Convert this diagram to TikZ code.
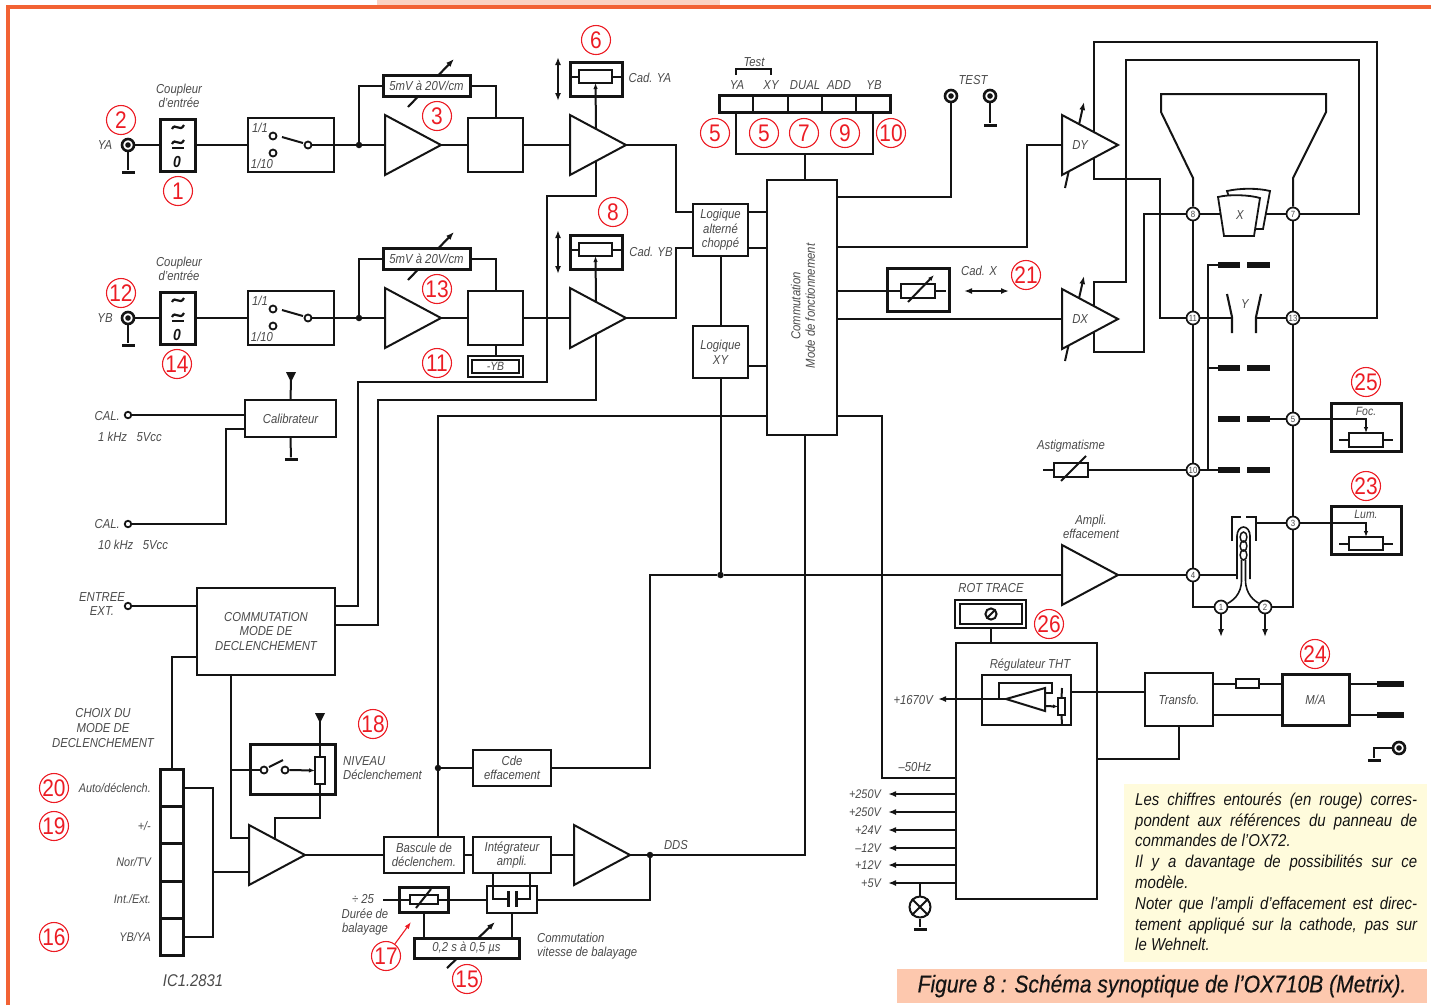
\documentclass[tikz,border=0pt]{standalone}
\usepackage{fontspec}
\setmainfont[FakeStretch=0.87]{Liberation Sans}
\usetikzlibrary{arrows.meta,shapes.geometric,backgrounds}
\pgfdeclarelayer{toplayer}
\pgfsetlayers{background,main,toplayer}
\definecolor{framec}{HTML}{F26234}
\definecolor{peach}{HTML}{FBD2C2}
\definecolor{capc}{HTML}{FDC8AE}
\definecolor{notec}{HTML}{FFFBDC}
\definecolor{numc}{HTML}{EC1C24}
\definecolor{labc}{HTML}{4A4A4A}
\definecolor{inkc}{HTML}{141414}
\newcommand\blk[7]{%
 \pgfmathsetmacro\blkw{#4-#2}\pgfmathsetmacro\blkh{#5-#3}%
 \node[minimum width=\blkw pt,minimum height=\blkh pt,anchor=north west,inner sep=0pt,outer sep=0pt,#6] (#1) at (#2,#3) {#7};}
\newcommand\tld[2]{\draw[line width=2.2pt,inkc] (#1-6,#2+2) .. controls (#1-3,#2-5) and (#1+2,#2+6) .. (#1+6,#2-2);}
\tikzset{
 lbl/.style={font=\itshape\fontsize{13}{14.6}\selectfont,text=labc,inner sep=0pt,align=center},
 lblr/.style={lbl,anchor=east,align=right},
 lbll/.style={lbl,anchor=west,align=left},
 num/.style={circle,draw=numc,line width=1.1pt,minimum size=29pt,inner sep=0pt,text=numc,font=\fontsize{24}{24}\selectfont},
 wire/.style={line width=2pt,draw=inkc},
 thinbox/.style={draw=inkc,line width=2pt,fill=white,font=\itshape\fontsize{13}{14.6}\selectfont,text=labc,align=center},
 midbox/.style={thinbox,line width=2pt},
 gainbox/.style={thinbox,line width=3pt},
 thickbox/.style={thinbox,line width=3pt},
 res/.style={draw=inkc,line width=2pt,fill=white},
 amp/.style={isosceles triangle,isosceles triangle stretches,shape border rotate=0,draw=inkc,line width=2pt,fill=white,minimum width=60pt,minimum height=56pt,inner sep=0pt,outer sep=0pt,anchor=lower side,font=\itshape\fontsize{13}{14}\selectfont,text=labc},
 dot/.style={circle,fill=inkc,minimum size=6.5pt,inner sep=0pt},
 port/.style={circle,draw=inkc,fill=white,line width=1.8pt,minimum size=7pt,inner sep=0pt},
 ring/.style={circle,draw=inkc,fill=white,line width=2.6pt,minimum size=12pt,inner sep=0pt},
 gbar/.style={fill=inkc,minimum width=13pt,minimum height=3pt,inner sep=0pt},
 gridbar/.style={fill=inkc,minimum width=22.5pt,minimum height=6pt,inner sep=0pt},
 term/.style={circle,draw=inkc,fill=white,line width=1.7pt,minimum size=13pt,inner sep=0pt,font=\fontsize{9}{9}\selectfont,text=labc},
 tip/.style={-{Latex[length=8pt,width=6pt]}},
 tips/.style={{Latex[length=8pt,width=6pt]}-{Latex[length=8pt,width=6pt]}},
 smalltip/.style={-{Latex[length=6pt,width=4.5pt]}}
}
% one input channel: prefix, vertical offset, name
\newcommand\chan[3]{%
 \begin{scope}[shift={(0,#2)}]
  \node[lbl] (#1lab) at (105,145) {#3};
  \node[ring] (#1in) at (128,145) {};
  \fill[inkc] (128,145) circle (2.8);
  \node[gbar] (#1gnd) at (128,172) {};
  \node[lbl] (#1cap) at (179,96) {Coupleur\\d'entrée};
  \blk{#1cpl}{160}{119}{195}{171}{thickbox}{}
  \tld{178}{127}\tld{178}{142}
  \draw[line width=2.2pt,inkc] (172,148) -- (184,148);
  \node[font=\itshape\bfseries\fontsize{16}{16}\selectfont,text=inkc,inner sep=0pt] (#1zero) at (177,162) {0};
  \blk{#1sw}{248}{118}{334}{172}{thinbox}{}
  \node[lbl] (#1r1) at (260,128) {1/1};
  \node[lbl] (#1r2) at (262,164) {1/10};
  \node[port] (#1p1) at (273,136) {};
  \node[port] (#1p2) at (273,153) {};
  \node[port] (#1p3) at (308,145) {};
  \node[dot] (#1j) at (359,145) {};
  \node[amp] (#1a1) at (385,145) {};
  \blk{#1gain}{383}{75}{470}{96}{gainbox}{5mV à 20V/cm}
  \blk{#1sq}{468}{118}{523}{172}{midbox}{}
  \node[amp] (#1a2) at (570,145) {};
  \blk{#1cad}{570}{62}{622}{96}{thickbox}{}
  \blk{#1pot}{579}{70}{612}{83}{res}{}
  \coordinate (#1ds) at (558,57);
  \coordinate (#1de) at (558,101);
  \coordinate (#1up) at (596,129);
  \coordinate (#1dn) at (596,145);
  \coordinate (#1kb) at (408,107);
  \coordinate (#1kt) at (454,59);
  \begin{scope}[on background layer]
   \draw[wire] (#1in) -- (#1cpl.west);
   \draw[wire] (#1in) -- (#1gnd);
   \draw[wire] (#1cpl.east) -- (#1sw.west);
   \draw[wire] (#1sw.east) -- (#1a1.lower side);
   \draw[wire] (#1j) |- (#1gain.west);
   \draw[wire] (#1gain.east) -| (#1sq.north);
   \draw[wire] (#1a1.apex) -- (#1sq.west);
   \draw[wire] (#1sq.east) -- (#1a2.lower side);
   \draw[wire,tip,line width=2.1pt] (#1kb) -- (#1kt);
  \end{scope}
  \begin{pgfonlayer}{toplayer}
   \draw[wire] (282,137) -- (303,143);
   \draw[wire] (#1p3) -- (#1sw.east);
   \draw[wire] (#1cad.west |- #1pot.west) -- (#1pot.west);
   \draw[wire] (#1pot.east) -- (#1cad.east |- #1pot.east);
   \draw[wire,{Latex[length=6pt,width=4.5pt]}-] (#1pot.south) -- (#1up);
  \end{pgfonlayer}
  \draw[wire,tips] (#1ds) -- (#1de);
 \end{scope}}
\begin{document}
\begin{tikzpicture}[x=1pt,y=-1pt,line join=miter]
\useasboundingbox (0,0) rectangle (1431,1005);
\begin{scope}[on background layer]
 \fill[peach] (377,0) rectangle (720,5);
 \draw[framec,line width=4pt] (8,1005) -- (8,7) -- (1431,7);
\end{scope}
\blk{note}{1124}{784}{1427}{962}{fill=notec}{}
\blk{caption}{897}{969}{1427}{1003}{fill=capc,font=\itshape\fontsize{24.2}{24}\selectfont\addfontfeature{FakeBold=0.35},text=inkc}{Figure 8 : Schéma synoptique de l'OX710B (Metrix).}
\node[anchor=north west,inner sep=0pt,font=\itshape\fontsize{17.2}{20.8}\selectfont,text=inkc,align=left] (notetext) at (1135,792.5) {%
 \makebox[282pt][s]{Les chiffres entourés (en rouge) corres-}\\
 \makebox[282pt][s]{pondent aux références du panneau de}\\
 commandes de l'OX72.\\
 \makebox[282pt][s]{Il y a davantage de possibilités sur ce}\\
 modèle.\\
 \makebox[282pt][s]{Noter que l'ampli d'effacement est direc-}\\
 \makebox[282pt][s]{tement appliqué sur la cathode, pas sur}\\
 le Wehnelt.};

\chan{A}{0}{YA}
\chan{B}{173}{YB}
\node[lbl] (cadA) at (650,78) {Cad. YA};
\node[lbl] (cadB) at (651,252) {Cad. YB};
\blk{ybo}{468}{356}{523}{377}{thinbox}{}
\blk{ybi}{472}{360}{519}{373}{thinbox,font=\itshape\fontsize{12}{12}\selectfont}{-YB}

% mode selector
\blk{modeb}{736}{113}{873}{154}{thinbox}{}
\blk{modes}{719}{95}{890}{112}{thickbox}{}
\foreach \i/\x in {1/753,2/788,3/822,4/856}{\coordinate (md\i) at (\x,95);\coordinate (me\i) at (\x,112);}
\foreach \n/\t/\x in {mya/YA/737,mxy/XY/771,mdu/DUAL/805,mad/ADD/839,myb/YB/874}{\node[lbl] (\n) at (\x,85) {\t};}
\node[lbl] (mtest) at (754,62) {Test};
\coordinate (tb1) at (736,75);\coordinate (tb2) at (771,75);

% central blocks
\blk{comm}{767}{180}{837}{435}{thinbox}{}
\node[lbl,rotate=90] (commtxt) at (803,306) {Commutation\\Mode de fonctionnement};
\blk{logA}{693}{204}{748}{256}{midbox}{Logique\\alterné\\choppé}
\blk{logB}{693}{326}{748}{378}{midbox}{Logique\\XY}
\node[dot] (jlog) at (720.5,575) {};
\coordinate (logA1) at (693,212);\coordinate (logA2) at (693,248);
\coordinate (logA3) at (748,212);\coordinate (logA4) at (748,248);
\coordinate (logB1) at (748,366);

% test points
\node[ring] (testa) at (951,96) {};
\fill[inkc] (951,96) circle (2.8);
\node[ring] (testb) at (990,96) {};
\fill[inkc] (990,96) circle (2.8);
\node[gbar] (testg) at (990,125) {};
\node[lbl] (testl) at (973,80) {TEST};

% Cad X
\blk{cadx}{887}{268}{949}{311}{thickbox}{}
\blk{cadxr}{901}{284}{935}{298}{res}{}
\coordinate (cxin) at (837,291);
\coordinate (cxst) at (946,291);
\coordinate (cxs1) at (908,302);
\coordinate (cxs2) at (934,275);
\node[lbl] (cadxl) at (979,271) {Cad. X};
\coordinate (cxa) at (964,291);\coordinate (cxb) at (1009,291);
\draw[wire,tips] (cxa) -- (cxb);

% deflection amps
\node[amp] (dy) at (1062,145) {DY};
\node[amp] (dx) at (1062,319) {DX};

% CRT
\foreach \n/\t/\x/\y in {t8/8/1193/214,t7/7/1293/214,t11/11/1193/318,t13/13/1293/318,t5/5/1293/419,t10/10/1193/470,t3/3/1293/523,t4/4/1193/575,t1/1/1221/607,t2/2/1265/607}{\node[term] (\n) at (\x,\y) {\t};}
\draw[line width=1.8pt,inkc,fill=white] (1227,191) .. controls (1240,188) and (1258,188) .. (1270,191) -- (1263,229) -- (1240,229) -- cycle;
\draw[line width=1.8pt,inkc,fill=white] (1218,197) .. controls (1230,194) and (1250,195) .. (1260,198) -- (1254,236) -- (1224,236) -- cycle;
\node[lbl] (xlab) at (1240,215) {X};
\node[lbl] (ylab) at (1245,304) {Y};
\draw[wire,line width=2.1pt] (1227,294) -- (1232,317) -- (1232,333);
\draw[wire,line width=2.1pt] (1261,294) -- (1256,317) -- (1256,333);
\coordinate (ypl) at (1232,318);\coordinate (ypr) at (1256,318);
\foreach \i/\y in {1/265,2/368,3/419,4/470}{%
 \node[gridbar] (g\i a) at (1229,\y) {};
 \node[gridbar] (g\i b) at (1258.5,\y) {};}

% astigmatism, focus, luminosity
\node[lbl] (astl) at (1071,446) {Astigmatisme};
\blk{ast}{1054}{463}{1088}{477}{res}{}
\coordinate (astin) at (1043,470);
\draw[wire] (1061,481) -- (1086,456);
\blk{foc}{1331}{403}{1401}{451}{thickbox}{}
\blk{focr}{1349}{433}{1383}{447}{res}{}
\node[lbl,font=\itshape\fontsize{12}{14}\selectfont] (focl) at (1366,411) {Foc.};
\blk{lum}{1331}{506}{1401}{554}{thickbox}{}
\blk{lumr}{1349}{537}{1383}{550}{res}{}
\node[lbl,font=\itshape\fontsize{12}{14}\selectfont] (luml) at (1366,514) {Lum.};
\coordinate (foca) at (1339,440);\coordinate (focb) at (1393,440);
\coordinate (luma) at (1339,543.5);\coordinate (lumb) at (1393,543.5);

% blanking amplifier
\node[lbl] (amlab) at (1091,527) {Ampli.\\effacement};
\node[amp] (ampe) at (1062,575) {};

% left side
\foreach \n/\x/\y in {calA/128/415,calB/128/524,extin/128/606}{\node[port,minimum size=6.5pt] (\n) at (\x,\y) {};}
\node[lblr] (call1) at (120,416) {CAL.};
\node[lbll] (call2) at (98,437) {1 kHz\ \ \ 5Vcc};
\node[lblr] (call3) at (120,524) {CAL.};
\node[lbll] (call4) at (98,545) {10 kHz\ \ \ 5Vcc};
\node[lbl] (extl) at (102,604) {ENTREE\\EXT.};
\blk{calib}{245}{400}{336}{437}{midbox}{Calibrateur}
\fill[inkc] (286,372) -- (296,372) -- (291,382) -- cycle;
\coordinate (calt) at (291,380);
\node[gbar] (calg) at (291,459) {};
\coordinate (calp) at (245,429);
\blk{cmd}{197}{588}{335}{675}{midbox}{COMMUTATION\\MODE DE\\DECLENCHEMENT}
\coordinate (cmA) at (335,606);\coordinate (cmB) at (335,625);
\coordinate (cmC) at (197,657);\coordinate (cmE) at (231,675);

% selector strip
\node[lbl] (choix) at (103,728) {CHOIX DU\\MODE DE\\DECLENCHEMENT};
\blk{sel1}{160}{769}{183}{806}{thickbox}{}
\blk{sel2}{160}{806}{183}{843}{thickbox}{}
\blk{sel3}{160}{843}{183}{881}{thickbox}{}
\blk{sel4}{160}{881}{183}{918}{thickbox}{}
\blk{sel5}{160}{918}{183}{955}{thickbox}{}
\node[lblr,font=\itshape\fontsize{12.5}{14}\selectfont] (l1) at (151,788) {Auto/déclench.};
\node[lblr,font=\itshape\fontsize{12.5}{14}\selectfont] (l2) at (151,826) {+/-};
\node[lblr,font=\itshape\fontsize{12.5}{14}\selectfont] (l3) at (151,862) {Nor/TV};
\node[lblr,font=\itshape\fontsize{12.5}{14}\selectfont] (l4) at (151,899) {Int./Ext.};
\node[lblr,font=\itshape\fontsize{12.5}{14}\selectfont] (l5) at (151,937) {YB/YA};
\node[lbl,font=\itshape\fontsize{17}{17}\selectfont] (ic) at (193,981) {IC1.2831};
\coordinate (sa) at (184,788);\coordinate (sb) at (184,937);\coordinate (sc) at (213,872);

% trigger level
\blk{niv}{250}{744}{335}{794}{thickbox}{}
\node[port] (nv1) at (264,770) {};
\node[port] (nv2) at (285,770) {};
\blk{nvr}{315}{757}{325}{784}{res}{}
\fill[inkc] (315,713) -- (325,713) -- (320,723) -- cycle;
\coordinate (nvt) at (320,721);
\node[lbll] (nivl) at (343,768) {NIVEAU\\Déclenchement};
\node[amp] (trg) at (249,855) {};
\coordinate (trgA) at (249,838);\coordinate (trgB) at (249,872);\coordinate (trgT) at (275,840);

% timebase
\blk{basc}{384}{837}{464}{873}{midbox}{Bascule de\\déclenchem.}
\blk{integ}{473}{837}{551}{873}{midbox}{Intégrateur\\ampli.}
\blk{cde}{473}{750}{551}{786}{midbox}{Cde\\effacement}
\node[dot] (jcde) at (438,768) {};
\node[amp] (amt) at (574,855) {};
\node[dot] (jdds) at (650,855) {};
\node[lbl] (ddsl) at (676,845) {DDS};
\blk{dur}{399}{887}{448}{912}{thickbox}{}
\blk{durr}{410}{895}{438}{904}{res}{}
\draw[wire] (416,908) -- (431,889);
\blk{capb}{487}{886}{537}{913}{thinbox}{}
\draw[wire,line width=3pt] (508,891) -- (508,907);
\draw[wire,line width=3pt] (516,891) -- (516,907);
\blk{speed}{414}{938}{519}{958}{thickbox}{0,2 s à 0,5 µs}
\node[lbl] (d25) at (363,899) {÷ 25};
\node[lbl] (dbal) at (365,922) {Durée de\\balayage};
\node[lbll] (cvit) at (537,946) {Commutation\\vitesse de balayage};
\coordinate (rowin) at (383,899.5);
\coordinate (pl) at (508,899);\coordinate (pr) at (516,899);
\coordinate (i1) at (493,873);\coordinate (i2) at (530,873);
\coordinate (c1) at (493,899);\coordinate (c2) at (530,899);
\coordinate (sp1) at (424,937);\coordinate (sp2) at (512,937);
\coordinate (da) at (424,913);\coordinate (db) at (512,913);
\coordinate (ka) at (447,968);\coordinate (kb) at (495,922);

% power supply
\node[lbl] (rotl) at (991,588) {ROT TRACE};
\blk{rot}{955}{600}{1026}{628}{thinbox}{}
\blk{roti}{960}{604}{1022}{624}{thinbox}{}
\draw[line width=2pt,inkc] (991,614) circle (5.6);
\draw[line width=2pt,inkc] (987,618) -- (995,610);
\blk{psu}{956}{643}{1097}{899}{midbox}{}
\node[lbl] (rthl) at (1030,665) {Régulateur THT};
\blk{reg}{982}{675}{1071}{725}{thinbox}{}
\blk{regr}{1058}{698}{1065}{715}{res}{}
\draw[line width=2pt,inkc,fill=white] (1006,699) -- (1045,688) -- (1045,711) -- cycle;
\coordinate (regt) at (1006,699);
\coordinate (regout) at (938,699);
\node[lblr] (v1670) at (933,700) {+1670V};
\coordinate (regR) at (1071,692);
\blk{transfo}{1145}{673}{1213}{726}{midbox}{Transfo.}
\blk{fuse}{1236}{679}{1259}{688}{res}{}
\blk{ma}{1282}{674}{1349}{725}{thickbox}{M/A}
\blk{plugA}{1377}{681}{1404}{687}{fill=inkc}{}
\blk{plugB}{1377}{712}{1404}{718}{fill=inkc}{}
\node[ring] (eart) at (1399,748) {};
\fill[inkc] (1399,748) circle (2.8);
\node[gbar] (eartg) at (1374,760) {};
\node[lbl] (hz) at (915,767) {–50Hz};
\foreach \i/\t/\y in {1/+250V/794,2/+250V/812,3/+24V/830,4/–12V/848,5/+12V/865,6/+5V/883}{%
 \node[lblr,font=\itshape\fontsize{12.5}{14}\selectfont] (vl\i) at (881,\y) {\t};
 \coordinate (vs\i) at (956,\y);
 \coordinate (ve\i) at (888,\y);}
\node[circle,draw=inkc,line width=2pt,fill=white,minimum size=21pt,inner sep=0pt] (lamp) at (920,907) {};
\draw[line width=2pt,inkc] (lamp.north west) -- (lamp.south east);
\draw[line width=2pt,inkc] (lamp.north east) -- (lamp.south west);
\node[gbar] (lampg) at (920,929) {};
\coordinate (lampt) at (920,883);

% connectors inside boxes, above the blocks
\begin{pgfonlayer}{toplayer}
 \foreach \i in {1,2,3,4}{\draw[wire,line width=2.2pt] (md\i) -- (me\i);}
 \draw[wire] (cxin) -- (cadxr.west);
 \draw[wire] (cadxr.east) -- (cxst);
 \draw[wire,smalltip] (cxs1) -- (cxs2);
 \draw[wire,smalltip] (t5.east) -- (1366,419) -- (focr.north);
 \draw[wire,smalltip] (t3.east) -- (1366,523) -- (lumr.north);
 \draw[wire] (foca) -- (focr.west);\draw[wire] (focr.east) -- (focb);
 \draw[wire] (luma) -- (lumr.west);\draw[wire] (lumr.east) -- (lumb);
 \draw[wire] (231,770) -- (nv1.west);
 \draw[wire] (269,767) -- (283,760);
 \draw[wire,smalltip] (nv2.east) -- (nvr.west);
 \draw[wire] (nvt) -- (nvr.north);
 \draw[wire] (nvr.south) -- (320,818) -- (275,818) -- (trgT);
 \draw[wire] (dur.west |- rowin) -- (durr.west |- rowin);
 \draw[wire] (durr.east |- rowin) -- (dur.east |- rowin);
 \draw[wire] (i1) -- (c1) -- (pl);
 \draw[wire] (i2) -- (c2) -- (pr);
 \draw[wire] (regt) -- (999,699) -- (999,683) -- (1052,683) -- (1052,693) -- (1045,693);
 \draw[wire,tip] (regt) -- (regout);
 \draw[wire] (regR) -- (transfo.west |- regR);
 \draw[wire] (1062,688) -- (regr.north);
 \draw[wire] (regr.south) -- (1062,725);
 \draw[wire,-{Latex[length=5pt,width=4pt]}] (1045,706) -- (regr.west);
\end{pgfonlayer}

% connectors, under the blocks
\begin{scope}[on background layer]
 \draw[wire] (Bsq.south) -- (ybo.north);
 \draw[wire] (Aa2.apex) -- ++(50,0) |- (logA1);
 \draw[wire] (Ba2.apex) -- ++(50,0) |- (logA2);
 \draw[wire] (Adn) -- (596,196) -- (547,196) -- (547,382) -- (358,382) -- (358,606) -- (cmA);
 \draw[wire] (Bdn) -- (596,400) -- (378,400) -- (378,625) -- (cmB);
 \draw[wire] (logA3) -- (logA3 -| comm.west);
 \draw[wire] (logA4) -- (logA4 -| comm.west);
 \draw[wire] (logB1) -- (logB1 -| comm.west);
 \draw[wire] (logA.south) -- (logB.north);
 \draw[wire] (logB.south) -- (jlog);
 \draw[wire] (modeb.south) -- (comm.north -| modeb.south);
 \draw[wire,line width=1.3pt] (tb1) -- (736,69) -- (771,69) -- (tb2);
 % right of commutation
 \draw[wire] (comm.east |- 0,197) -- (951,197) -- (testa);
 \draw[wire] (testb) -- (testg);
 \draw[wire] (comm.east |- 0,247) -- (1027,247) -- (1027,145) -- (dy.lower side);
 \draw[wire] (comm.east |- dx.lower side) -- (dx.lower side);
 \draw[wire,tip] (1065,188) -- (1084,102);
 \draw[wire,tip] (1065,361) -- (1084,276);
 \draw[wire] (1094,145) -- (1094,42) -- (1377,42) -- (1377,318) -- (t13);
 \draw[wire] (1094,145) -- (1094,179) -- (1160,179) -- (1160,318) -- (t11);
 \draw[wire] (1094,319) -- (1094,282) -- (1126,282) -- (1126,60) -- (1359,60) -- (1359,214) -- (t7);
 \draw[wire] (1094,319) -- (1094,352) -- (1144,352) -- (1144,214) -- (t8);
 % tube
 \draw[wire] (t8) -- (1193,178) -- (1161,112) -- (1161,94) -- (1326,94) -- (1326,112) -- (1293,178) -- (t7);
 \draw[wire] (t8) -- (t11) -- (t10) -- (t4) -- (1193,607) -- (t1) -- (t2) -- (1293,607) -- (t3) -- (t5) -- (t13) -- (t7);
 \draw[wire] (t8) -- (t7);
 \draw[wire] (t11) -- (ypl);
 \draw[wire] (ypr) -- (t13);
 \draw[wire] (g1a.west) -- (1208,265) -- (1208,470);
 \draw[wire] (1208,368) -- (g2a.west);
 \draw[wire] (t10) -- (g4a.west);
 \draw[wire] (g3b.east) -- (t5);
 \draw[wire] (astin) -- (ast.west);
 \draw[wire] (ast.east) -- (t10);
 % gun
 \draw[wire] (t3) -- (1256,523);
 \draw[wire] (1232,541) -- (1232,517) -- (1241,517);
 \draw[wire] (1246,517) -- (1256,517) -- (1256,541);
 \draw[wire,line width=1.6pt] (1237,579) -- (1237,536) arc[start angle=180,end angle=0,x radius=6.5,y radius=-9] -- (1250,579);
 \draw[wire,line width=1.5pt] (1243.5,537) ellipse (3.4 and 5);
 \draw[wire,line width=1.5pt] (1243.5,546) ellipse (3.4 and 5);
 \draw[wire,line width=1.5pt] (1243.5,555) ellipse (3.4 and 5);
 \draw[wire,line width=1.6pt] (1241.5,560) -- (1241.5,580) .. controls (1241.5,595) and (1232,601) .. (t1);
 \draw[wire,line width=1.6pt] (1245.5,560) -- (1245.5,580) .. controls (1245.5,595) and (1255,601) .. (t2);
 \draw[wire] (t4) -- (1237,575);
 \draw[wire,tip] (t1) -- (1221,637);
 \draw[wire,tip] (t2) -- (1265,637);
 \draw[wire] (ampe.apex) -- (t4);
 \draw[wire] (jlog) -- (ampe.lower side);
 % calibrator
 \draw[wire] (calA) -- (calA -| calib.west);
 \draw[wire] (calB) -- (226,524) -- (226,429) -- (calp);
 \draw[wire] (calt) -- (calib.north);
 \draw[wire] (calib.south) -- (calg);
 \draw[wire] (extin) -- (extin -| cmd.west);
 \draw[wire] (sel1.north) -- (sel1.north |- cmC) -- (cmC);
 \draw[wire] (cmE) -- (231,838) -- (trgA);
 \draw[wire] (sa) -- (213,788) -- (213,937) -- (sb);
 \draw[wire] (sc) -- (trgB);
 \draw[wire] (trg.apex) -- (basc.west);
 \draw[wire] (basc.east) -- (integ.west);
 \draw[wire] (integ.east) -- (amt.lower side);
 \draw[wire] (amt.apex) -- (805,855) -- (comm.south -| 805,0);
 \draw[wire] (comm.west |- 0,416) -- (438,416) -- (basc.north -| 438,0);
 \draw[wire] (jcde) -- (cde.west);
 \draw[wire] (cde.east) -- (650,768) -- (650,575) -- (jlog);
 \draw[wire] (jdds) -- (650,899.5) -- (capb.east |- rowin);
 \draw[wire] (rowin) -- (dur.west |- rowin);
 \draw[wire] (dur.east |- rowin) -- (capb.west |- rowin);
 \draw[wire] (da) -- (sp1);
 \draw[wire] (db) -- (sp2);
 \draw[wire,line width=2.1pt,tip] (ka) -- (kb);
 % power
 \draw[wire] (rot.south) -- (psu.north -| rot.south);
 \draw[wire] (transfo.east |- fuse.west) -- (fuse.west);
 \draw[wire] (fuse.east) -- (ma.west |- fuse.east);
 \draw[wire] (transfo.east |- plugB.west) -- (ma.west |- plugB.west);
 \draw[wire] (ma.east |- plugA.west) -- (plugA.west);
 \draw[wire] (ma.east |- plugB.west) -- (plugB.west);
 \draw[wire] (transfo.south) |- (psu.east |- 0,759);
 \draw[wire] (eart) -- (1374,748) -- (eartg);
 \draw[wire] (comm.east |- 0,416) -- (882,416) -- (882,778) -- (psu.west |- 0,778);
 \foreach \i in {1,...,6}{\draw[wire,tip] (vs\i) -- (ve\i);}
 \draw[wire] (lampt) -- (lamp.north);
 \draw[wire] (lamp.south) -- (lampg);
\end{scope}

% callouts
\foreach \n/\t/\x/\y in {a/2/121/120,b/1/178/191,c/3/437/116,d/6/596/40,e/5/715/133,f/5/764/133,g/7/804/133,h/9/845/133,i/10/891/133,j/8/613/212,k/12/121/293,l/14/177/364,m/13/437/289,n/11/437/363,o/21/1026/275,p/25/1366/382,q/23/1366/486,r/24/1315/654,s/26/1049/624,t/18/373/724,u/20/54/788,v/19/54/826,w/16/54/937,x/17/386/956,y/15/467/979}{\node[num] (num\n) at (\x,\y) {\t};}
\coordinate (ra) at (411,922);
\draw[numc,line width=1.1pt,-{Latex[length=7pt,width=5pt]}] (numx) -- (ra);
\end{tikzpicture}
\end{document}
